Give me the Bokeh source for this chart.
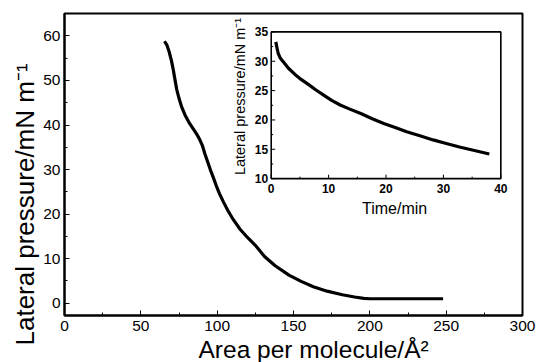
import math
from bokeh.plotting import figure
from bokeh.models import Range1d, SingleIntervalTicker, Title
from bokeh.core.properties import value
from bokeh.embed import file_html
from bokeh.resources import INLINE

# ---- main isotherm data (area per molecule / A^2, lateral pressure / mN m^-1)
area = [65.5, 67.0, 68.5, 70.0, 71.2, 72.3, 73.5, 75.0, 76.8, 79.0, 81.5, 84.0,
        86.5, 88.5, 90.4, 92.0, 93.7, 95.5, 97.5, 99.5, 101.5, 104.0, 107.0,
        110.5, 115.0, 120.0, 125.0, 131.0, 138.0, 147.0, 155.0, 163.0, 172.0,
        182.0, 190.0, 196.0, 200.0, 225.0, 248.0]
pressure = [58.8, 58.0, 56.5, 54.5, 52.5, 50.3, 48.0, 46.0, 44.0, 42.2, 40.6, 39.3,
            38.0, 36.8, 35.3, 33.5, 31.8, 30.0, 28.2, 26.3, 24.6, 22.8, 20.8,
            18.8, 16.6, 14.7, 13.0, 10.5, 8.4, 6.3, 4.9, 3.7, 2.7,
            1.9, 1.4, 1.1, 1.0, 1.0, 1.0]

# ---- inset relaxation data (time / min, lateral pressure / mN m^-1)
time_min = [0.8, 1.0, 1.2, 1.6, 2.1, 3.0, 4.1, 5.2, 6.4, 7.8, 9.2, 10.6, 12.1,
            13.8, 15.6, 17.6, 19.6, 21.6, 23.6, 25.9, 28.2, 30.5, 32.8, 35.4, 38.0]
p_time = [33.3, 32.3, 31.4, 30.5, 29.9, 28.8, 27.8, 26.9, 26.1, 25.1, 24.2, 23.3,
          22.5, 21.8, 21.1, 20.2, 19.4, 18.7, 18.0, 17.3, 16.6, 16.0, 15.4, 14.8, 14.2]

inset_xticks = [0, 10, 20, 30, 40]
inset_xminor = [5, 15, 25, 35]
inset_yticks = [10, 15, 20, 25, 30, 35]
inset_yminor = [12.5, 17.5, 22.5, 27.5, 32.5]
inset_xlim = [0, 40]
inset_ylim = [10, 35]

x_title = "Area per molecule/Å²"
y_title = "Lateral pressure/mN m⁻¹"
inset_x_title = "Time/min"
inset_y_title = "Lateral pressure/mN m⁻¹"

FONT = "Liberation Sans"
XLIM = (0, 300)
YLIM = (-2.76, 65.03)

p = figure(width=537, height=362, x_range=Range1d(*XLIM), y_range=Range1d(*YLIM),
           output_backend="svg", toolbar_location=None,
           min_border_left=64, min_border_right=15, min_border_top=13, min_border_bottom=47)
p.background_fill_color = "white"
p.border_fill_color = "white"
p.xgrid.visible = False
p.ygrid.visible = False
p.outline_line_color = "black"
p.outline_line_width = 2

p.xaxis.ticker = SingleIntervalTicker(interval=50, num_minor_ticks=2)
p.yaxis.ticker = SingleIntervalTicker(interval=10, num_minor_ticks=2)
for ax in (p.xaxis[0], p.yaxis[0]):
    ax.axis_line_color = "black"
    ax.axis_line_width = 2
    ax.major_tick_in = 5
    ax.major_tick_out = 0
    ax.minor_tick_in = 3
    ax.minor_tick_out = 0
    ax.major_tick_line_color = "black"
    ax.minor_tick_line_color = "black"
    ax.major_label_text_font = FONT
    ax.major_label_text_font_size = "15.5px"
    ax.major_label_text_color = "black"
p.xaxis.major_label_standoff = 5
p.yaxis.major_label_standoff = 4

# axis titles as side titles (off-centre like the original)
p.add_layout(Title(text=x_title, align="left", offset=134, standoff=0,
                   text_font=FONT, text_font_size="24.5px", text_font_style="normal",
                   text_color="black", text_line_height=1.0), "below")
p.add_layout(Title(text=y_title, align="left", offset=-30, standoff=2,
                   text_font=FONT, text_font_size="26px", text_font_style="normal",
                   text_color="black", text_line_height=1.0), "left")

p.line(area, pressure, line_color="black", line_width=3.2, line_join="round")

# ---- inset drawn in its own coordinate system
sub = p.subplot(x_source=Range1d(*inset_xlim), y_source=Range1d(*inset_ylim),
                x_target=Range1d(135.4, 285.8), y_target=Range1d(27.96, 60.9))

sub.quad(left=[inset_xlim[0]], right=[inset_xlim[1]], bottom=[inset_ylim[0]], top=[inset_ylim[1]],
         fill_color="white", line_color="black", line_width=1.6)

sub.ray(x=inset_xticks, y=[inset_ylim[0]] * len(inset_xticks), length=4, length_units="screen",
        angle=math.pi / 2, line_color="black", line_width=1)
sub.ray(x=inset_xminor, y=[inset_ylim[0]] * len(inset_xminor), length=2, length_units="screen",
        angle=math.pi / 2, line_color="black", line_width=1)
sub.ray(x=[inset_xlim[0]] * len(inset_yticks), y=inset_yticks, length=4, length_units="screen",
        angle=0, line_color="black", line_width=1)
sub.ray(x=[inset_xlim[0]] * len(inset_yminor), y=inset_yminor, length=2, length_units="screen",
        angle=0, line_color="black", line_width=1)

sub.text(x=inset_xticks, y=[inset_ylim[0]] * len(inset_xticks), text=[str(t) for t in inset_xticks],
         text_font=value(FONT), text_font_size="12px", text_font_style="bold",
         text_align="center", text_baseline="top", y_offset=5, text_color="black")
sub.text(x=[inset_xlim[0]] * len(inset_yticks), y=inset_yticks, text=[str(t) for t in inset_yticks],
         text_font=value(FONT), text_font_size="12px", text_font_style="bold",
         text_align="right", text_baseline="middle", x_offset=-3, text_color="black")

sub.text(x=[21.5], y=[inset_ylim[0]], text=[inset_x_title], text_font=value(FONT),
         text_font_size="16px", text_align="center", text_baseline="middle", y_offset=30,
         text_color="black")
sub.text(x=[inset_xlim[0]], y=[24.0], text=[inset_y_title], text_font=value(FONT),
         text_font_size="14.5px", text_align="center", text_baseline="middle", x_offset=-31,
         angle=math.pi / 2, text_color="black")

sub.line(time_min, p_time, line_color="black", line_width=3.2, line_join="round")

open("out.html", "w").write(file_html(p, INLINE))
